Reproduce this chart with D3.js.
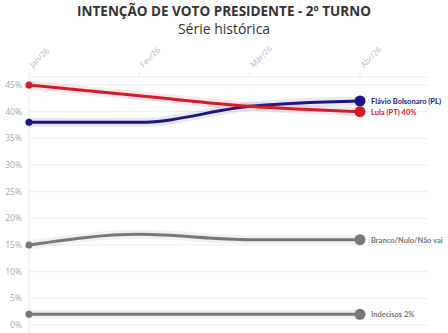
<!DOCTYPE html>
<html><head><meta charset="utf-8">
<script src="https://cdn.jsdelivr.net/npm/d3@7"></script>
<style>body{margin:0;background:#fff;font-family:"Open Sans",sans-serif;}</style>
</head><body><svg id="c" width="448" height="333"></svg>
<script>
const months = ["Jan/26","Fev/26","Mar/26","Abr/26"];
const yTicks = [0,5,10,15,20,25,30,35,40,45];
const seriesNames = ["Flávio Bolsonaro (PL)","Lula (PT) 40%","Branco/Nulo/Não vai","Indecisos 2%"];
const seriesColors = ["#1b1782","#d71a2a","#777777","#777777"];
const flavio = [38,38,41,42];
const lula = [45,43,41,40];
const branco = [15,17,16,16];
const indecisos = [2,2,2,2];
const values = [flavio,lula,branco,indecisos];

const svg = d3.select("#c");
const x = d3.scalePoint().domain(months).range([29,360]);
const y = d3.scaleLinear().domain([0,45]).range([325,85]);

svg.append("text").attr("x",224).attr("y",16).attr("text-anchor","middle")
  .attr("font-family","'Open Sans',sans-serif").attr("font-weight","bold").attr("font-size",13.5)
  .attr("fill","#333").text("INTENÇÃO DE VOTO PRESIDENTE - 2º TURNO");
svg.append("text").attr("x",224).attr("y",34).attr("text-anchor","middle")
  .attr("font-family","'Open Sans',sans-serif").attr("font-size",14)
  .attr("fill","#333").text("Série histórica");

// horizontal grid
svg.append("g").selectAll("line").data(yTicks).join("line")
  .attr("x1",29).attr("x2",427).attr("y1",d=>y(d)).attr("y2",d=>y(d))
  .attr("stroke","#ebebeb").attr("stroke-width",1);
svg.append("line").attr("x1",29).attr("x2",427).attr("y1",77).attr("y2",77).attr("stroke","#ebebeb");
// vertical grid
svg.append("g").selectAll("line").data(months).join("line")
  .attr("x1",d=>x(d)).attr("x2",d=>x(d)).attr("y1",72).attr("y2",d=>d===months[0]?333:77)
  .attr("stroke","#ebebeb").attr("stroke-width",1);

// y labels
svg.append("g").selectAll("text").data(yTicks).join("text")
  .attr("x",22).attr("y",d=>y(d)+3).attr("text-anchor","end")
  .attr("font-size",8.5).attr("fill","#a3acc0").text(d=>d+"%");
// x labels
svg.append("g").selectAll("text").data(months).join("text")
  .attr("transform",d=>`translate(${x(d)+4},${68}) rotate(-45)`)
  .attr("text-anchor","start").attr("font-size",8).attr("fill","#b3bccd").text(d=>d);

const line = d3.line().x((d,i)=>x(months[i])).y(d=>y(d)).curve(d3.curveMonotoneX);

values.forEach((vals,k)=>{
  const g = svg.append("g");
  g.append("path").attr("d",line(vals)).attr("fill","none")
    .attr("stroke",seriesColors[k]).attr("stroke-opacity",0.1).attr("stroke-width",9).attr("stroke-linecap","round");
  g.append("path").attr("d",line(vals)).attr("fill","none")
    .attr("stroke",seriesColors[k]).attr("stroke-width",3);
  g.append("circle").attr("cx",x(months[0])).attr("cy",y(vals[0])).attr("r",3.5).attr("fill",seriesColors[k]);
  g.append("circle").attr("cx",x(months[3])).attr("cy",y(vals[3])).attr("r",5.5).attr("fill",seriesColors[k]);
  g.append("text").attr("x",371).attr("y",y(vals[3])+3).attr("font-size",7.5).attr("font-weight","bold")
    .attr("font-family","Lato,sans-serif")
    .attr("fill",seriesColors[k]).text(seriesNames[k]);
});
</script></body></html>
